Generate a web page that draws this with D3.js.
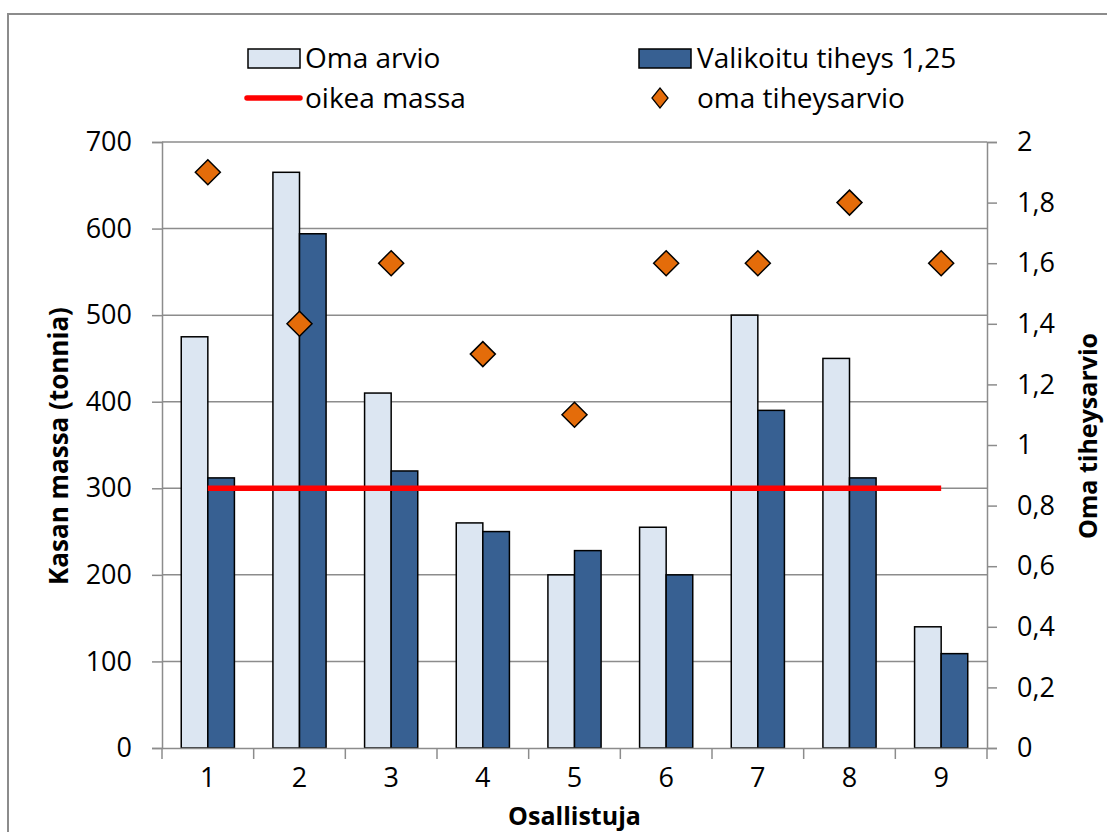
<!DOCTYPE html>
<html lang="fi">
<head>
    <meta charset="UTF-8">
    <title>Kasan massa</title>
    <script src="https://d3js.org/d3.v7.min.js"></script>
    <style>
        body { margin: 0; background: #fff; }
        text { font-family: "Open Sans", "Noto Sans", sans-serif; fill: #000; }
        .tick text { font-size: 27px; }
        .title { font-size: 26px; font-weight: bold; }
        .legend text { font-size: 28px; }
    </style>
</head>
<body>
    <svg width="1107" height="832"></svg>
    <script>
        // arvot luettu kuvasta
        const osallistujat = ["1", "2", "3", "4", "5", "6", "7", "8", "9"];
        const omaArvio = [475, 665, 410, 260, 200, 255, 500, 450, 140];
        const valikoituTiheys = [312, 594, 320, 250, 228, 200, 390, 312, 109];
        const oikeaMassa = [300, 300, 300, 300, 300, 300, 300, 300, 300];
        const tiheysArvio = [1.9, 1.4, 1.6, 1.3, 1.1, 1.6, 1.6, 1.8, 1.6];
        const massaTicks = [0, 100, 200, 300, 400, 500, 600, 700];
        const tiheysTicks = [0, 0.2, 0.4, 0.6, 0.8, 1, 1.2, 1.4, 1.6, 1.8, 2];

        const svg = d3.select("svg");
        const plotLeft = 162, plotRight = 987, plotTop = 142, plotBottom = 748;
        const gridColor = "#8c8c8c";

        // kehys
        svg.append("rect")
            .attr("x", 8).attr("y", 14)
            .attr("width", 1120).attr("height", 840)
            .attr("fill", "none")
            .attr("stroke", "#8c8c8c")
            .attr("stroke-width", 2);

        const x = d3.scaleBand()
            .domain(osallistujat)
            .range([plotLeft, plotRight])
            .paddingInner(0.42)
            .paddingOuter(0.21);
        const xSub = d3.scaleBand()
            .domain([0, 1])
            .range([0, x.bandwidth()]);
        const y = d3.scaleLinear().domain([0, 700]).range([plotBottom, plotTop]);
        const y2 = d3.scaleLinear().domain([0, 2]).range([plotBottom, plotTop]);

        // ruudukko
        svg.append("g")
            .selectAll("line")
            .data(massaTicks.slice(1))
            .join("line")
            .attr("x1", plotLeft).attr("x2", plotRight)
            .attr("y1", d => y(d)).attr("y2", d => y(d))
            .attr("stroke", gridColor)
            .attr("stroke-width", 1.5);

        // pylväät
        const rows = osallistujat.map((c, i) => ({ c, a: omaArvio[i], b: valikoituTiheys[i] }));
        svg.append("g")
            .selectAll("rect")
            .data(rows)
            .join("rect")
            .attr("x", d => x(d.c) + xSub(0))
            .attr("y", d => y(d.a))
            .attr("width", xSub.bandwidth())
            .attr("height", d => plotBottom - y(d.a))
            .attr("fill", "#dce6f2")
            .attr("stroke", "#000")
            .attr("stroke-width", 1.5);
        svg.append("g")
            .selectAll("rect")
            .data(rows)
            .join("rect")
            .attr("x", d => x(d.c) + xSub(1))
            .attr("y", d => y(d.b))
            .attr("width", xSub.bandwidth())
            .attr("height", d => plotBottom - y(d.b))
            .attr("fill", "#376092")
            .attr("stroke", "#000")
            .attr("stroke-width", 1.5);

        // oikea massa
        const line = d3.line()
            .x((d, i) => x(osallistujat[i]) + x.bandwidth() / 2)
            .y(d => y(d));
        svg.append("path")
            .datum(oikeaMassa)
            .attr("d", line)
            .attr("fill", "none")
            .attr("stroke", "#ff0000")
            .attr("stroke-width", 5.5);

        // tiheysarviot
        const diamond = r => `M0,${-r}L${r},0L0,${r}L${-r},0Z`;
        svg.append("g")
            .selectAll("path")
            .data(tiheysArvio)
            .join("path")
            .attr("d", diamond(12.5))
            .attr("transform", (d, i) => `translate(${x(osallistujat[i]) + x.bandwidth() / 2},${y2(d)})`)
            .attr("fill", "#e46c0a")
            .attr("stroke", "#000")
            .attr("stroke-width", 1.5);

        // akselit
        const styleAxis = g => {
            g.select(".domain").attr("stroke", gridColor).attr("stroke-width", 1.5);
            g.selectAll(".tick line").attr("stroke", gridColor).attr("stroke-width", 1.5);
            g.selectAll(".tick text").attr("font-family", null).attr("font-size", null);
        };
        svg.append("g")
            .attr("transform", `translate(${plotLeft},0)`)
            .call(d3.axisLeft(y).tickValues(massaTicks).tickSize(10).tickSizeOuter(10).tickPadding(20))
            .call(styleAxis);

        const fmt = d => String(d).replace(".", ",");
        svg.append("g")
            .attr("transform", `translate(${plotRight},0)`)
            .call(d3.axisRight(y2).tickValues(tiheysTicks).tickFormat(fmt).tickSize(10).tickSizeOuter(10).tickPadding(20))
            .call(styleAxis);

        const xAxis = svg.append("g")
            .attr("transform", `translate(0,${plotBottom})`)
            .call(d3.axisBottom(x).tickSize(0).tickSizeOuter(0).tickPadding(20))
            .call(styleAxis);
        // kategoriarajojen merkit
        xAxis.append("g")
            .selectAll("line")
            .data(d3.range(osallistujat.length + 1))
            .join("line")
            .attr("x1", i => plotLeft + i * x.step())
            .attr("x2", i => plotLeft + i * x.step())
            .attr("y1", 0).attr("y2", 11)
            .attr("stroke", gridColor)
            .attr("stroke-width", 1.5);

        // otsikot
        svg.append("text")
            .attr("class", "title")
            .attr("transform", `translate(68,446) rotate(-90)`)
            .attr("text-anchor", "middle")
            .text("Kasan massa (tonnia)");
        svg.append("text")
            .attr("class", "title")
            .attr("transform", `translate(1097,436) rotate(-90)`)
            .attr("text-anchor", "middle")
            .style("font-size", "25px")
            .text("Oma tiheysarvio");
        svg.append("text")
            .attr("class", "title")
            .attr("x", (plotLeft + plotRight) / 2)
            .attr("y", 825)
            .attr("text-anchor", "middle")
            .style("font-size", "25px")
            .text("Osallistuja");

        // selite
        const legend = svg.append("g").attr("class", "legend");
        legend.append("rect").attr("x", 248).attr("y", 49).attr("width", 52).attr("height", 19)
            .attr("fill", "#dce6f2").attr("stroke", "#000").attr("stroke-width", 1.5);
        legend.append("text").attr("x", 305).attr("y", 68).text("Oma arvio");
        legend.append("rect").attr("x", 639).attr("y", 49).attr("width", 52).attr("height", 19)
            .attr("fill", "#376092").attr("stroke", "#000").attr("stroke-width", 1.5);
        legend.append("text").attr("x", 697).attr("y", 68).text("Valikoitu tiheys 1,25");
        legend.append("line").attr("x1", 247).attr("x2", 300).attr("y1", 98).attr("y2", 98)
            .attr("stroke", "#ff0000").attr("stroke-width", 5.5).attr("stroke-linecap", "round");
        legend.append("text").attr("x", 305).attr("y", 108).text("oikea massa");
        legend.append("path").attr("d", diamond(10))
            .attr("transform", "translate(660,98) scale(0.8,1)")
            .attr("fill", "#e46c0a").attr("stroke", "#000").attr("stroke-width", 1.5);
        legend.append("text").attr("x", 697).attr("y", 108).text("oma tiheysarvio");
    </script>
</body>
</html>
